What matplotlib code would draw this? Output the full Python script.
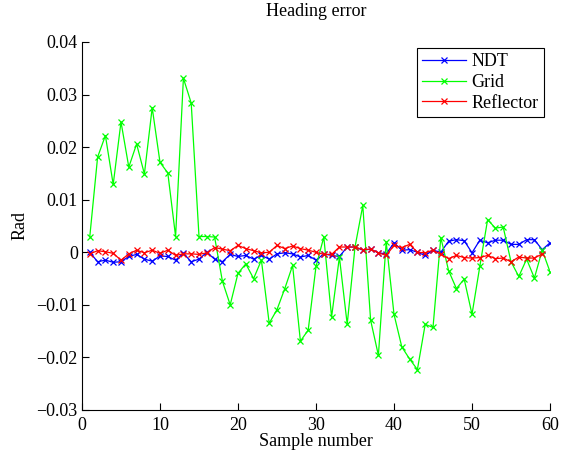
"""Heading error per sample for the three localisation methods."""

import numpy as np
import matplotlib
matplotlib.use("Agg")
import matplotlib.pyplot as plt

plt.rcParams["font.family"] = ["Liberation Serif", "DejaVu Serif"]
plt.rcParams["font.size"] = 13

# heading error [rad] per sample
ndt = [
    0.0000, -0.0018, -0.0015, -0.0019, -0.0018, -0.0008, -0.0004, -0.0013, -0.0017, -0.0007,
    -0.0008, -0.0015, -0.0002, -0.0018, -0.0013, 0.0000, -0.0013, -0.0018, -0.0004, -0.0008,
    -0.0006, -0.0013, -0.0006, -0.0013, -0.0003, -0.0001, -0.0003, -0.0009, -0.0006, -0.0015,
    -0.0003, -0.0006, -0.0008, 0.0010, 0.0010, 0.0004, 0.0006, -0.0001, -0.0003, 0.0018,
    0.0004, 0.0005, 0.0000, -0.0006, 0.0004, 0.0000, 0.0021, 0.0024, 0.0022, -0.0001,
    0.0023, 0.0018, 0.0023, 0.0023, 0.0015, 0.0015, 0.0024, 0.0024, 0.0005, 0.0018,
]
grid = [
    0.0030, 0.0181, 0.0222, 0.0129, 0.0248, 0.0162, 0.0206, 0.0149, 0.0275, 0.0171,
    0.0151, 0.0030, 0.0331, 0.0284, 0.0030, 0.0030, 0.0029, -0.0055, -0.0100, -0.0040,
    -0.0022, -0.0050, -0.0015, -0.0135, -0.0109, -0.0069, -0.0025, -0.0169, -0.0148, -0.0027,
    0.0029, -0.0123, -0.0009, -0.0137, 0.0010, 0.0089, -0.0129, -0.0196, 0.0020, -0.0118,
    -0.0180, -0.0203, -0.0223, -0.0137, -0.0143, 0.0028, -0.0035, -0.0069, -0.0051, -0.0118,
    -0.0027, 0.0062, 0.0046, 0.0048, -0.0018, -0.0046, -0.0013, -0.0049, 0.0004, -0.0037,
]
reflector = [
    -0.0003, 0.0003, 0.0001, -0.0002, -0.0015, -0.0003, 0.0004, -0.0001, 0.0004, -0.0002,
    0.0004, -0.0006, -0.0003, -0.0003, -0.0004, -0.0001, 0.0009, 0.0006, 0.0003, 0.0013,
    0.0007, 0.0003, -0.0001, 0.0000, 0.0013, 0.0007, 0.0012, 0.0007, 0.0004, 0.0000,
    -0.0004, -0.0004, 0.0010, 0.0010, 0.0010, 0.0005, 0.0006, -0.0001, -0.0006, 0.0013,
    0.0009, 0.0015, 0.0000, -0.0001, 0.0004, -0.0004, -0.0012, -0.0006, -0.0010, -0.0011,
    -0.0010, -0.0006, -0.0012, -0.0011, -0.0018, -0.0009, -0.0011, -0.0011, -0.0003,
]

x_ticks = [0, 10, 20, 30, 40, 50, 60]
y_ticks = [-0.03, -0.02, -0.01, 0.0, 0.01, 0.02, 0.03, 0.04]
y_tick_labels = ["\u22120.03", "\u22120.02", "\u22120.01", "0", "0.01", "0.02", "0.03", "0.04"]

fig = plt.figure(figsize=(5.62, 4.53), dpi=100)
ax = fig.add_axes([82 / 562, 43 / 453, 468 / 562, 368 / 453])

style = dict(marker="x", markersize=5, linewidth=0.9, markeredgewidth=0.9)
ax.plot(np.arange(1, len(ndt) + 1), ndt, color=(0, 0, 1), label="NDT", **style)
ax.plot(np.arange(1, len(grid) + 1), grid, color=(0, 1, 0), label="Grid", **style)
ax.plot(np.arange(1, len(reflector) + 1), reflector, color=(1, 0, 0), label="Reflector", **style)

ax.set_xlim(0, 60)
ax.set_ylim(-0.03, 0.04)
ax.set_xticks(x_ticks)
ax.set_yticks(y_ticks)
ax.set_yticklabels(y_tick_labels)
ax.tick_params(direction="in", length=5, width=0.8, pad=3)
ax.tick_params(axis="x", pad=5)

for side in ("top", "right"):
    ax.spines[side].set_visible(False)
for side in ("left", "bottom"):
    ax.spines[side].set_linewidth(0.8)

ax.set_title("Heading error", fontsize=13, pad=19)
ax.set_xlabel("Sample number", labelpad=-1)
ax.set_ylabel("Rad", labelpad=6)

leg = ax.legend(loc="upper left", bbox_to_anchor=(417 / 562, 1 - 48 / 453),
                bbox_transform=fig.transFigure, numpoints=1, handlelength=2.4,
                handletextpad=0.3, labelspacing=0.2, borderpad=0.3,
                borderaxespad=0, fancybox=False, framealpha=1, edgecolor="black")
leg.get_frame().set_linewidth(0.8)

fig.savefig("out.png", dpi=100)
